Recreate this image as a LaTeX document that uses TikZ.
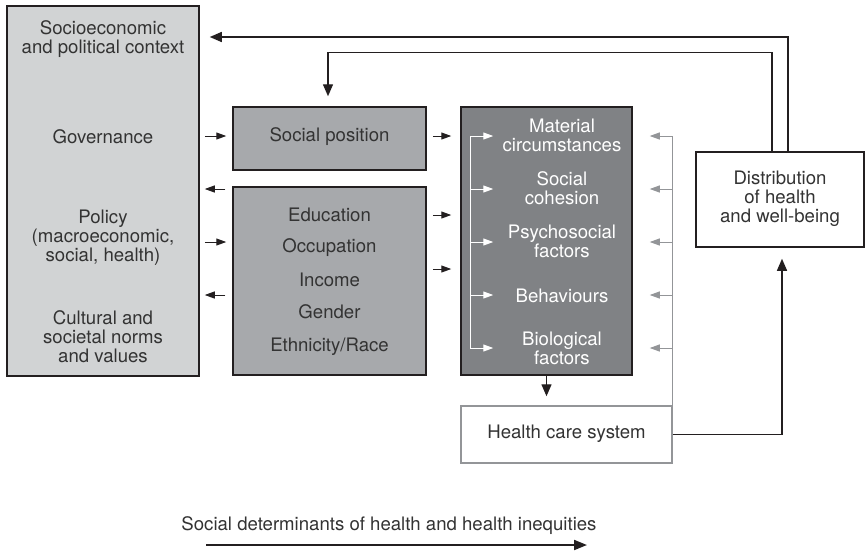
\documentclass[tikz,border=0pt]{standalone}
\usepackage{fontspec}
\setmainfont{TeX Gyre Heros}
\usetikzlibrary{arrows.meta,calc}
\definecolor{lgray}{HTML}{D1D3D4}
\definecolor{mgray}{HTML}{A7A9AC}
\definecolor{dgray}{HTML}{808285}
\definecolor{lineg}{HTML}{939598}
\definecolor{ink}{HTML}{231F20}
\definecolor{tink}{HTML}{333333}
\begin{document}
\begin{tikzpicture}[x=1pt,y=-1pt,
  box/.style={draw=ink,line width=1.5pt,inner sep=0pt},
  txt/.style={font=\fontsize{18.6}{19}\selectfont,text=tink,align=center,inner sep=0pt},
  wtxt/.style={txt,text=white},
  sarr/.style={draw=ink,line width=1pt,-{Triangle[length=10pt,width=7pt]}},
  warr/.style={draw=white,line width=1pt,-{Triangle[length=10pt,width=7pt]}},
  garr/.style={draw=lineg,line width=1pt,-{Triangle[length=10pt,width=7pt]}},
  larr/.style={draw=ink,line width=1.4pt,-{Triangle[length=12pt,width=10pt]}},
  barr/.style={draw=ink,line width=2pt,-{Triangle[length=13pt,width=10pt]}}]
\useasboundingbox (0,0) rectangle (865,550);

% boxes
\node[box,fill=lgray,minimum width=192pt,minimum height=370pt] (L) at (103,191) {};
\node[box,fill=mgray,minimum width=193pt,minimum height=63pt] (SP) at (329.5,138.5) {};
\node[box,fill=mgray,minimum width=193pt,minimum height=188pt] (M) at (329.5,281) {};
\node[box,fill=dgray,minimum width=171pt,minimum height=268pt] (D) at (546.5,241) {};
\node[box,draw=lineg,fill=white,minimum width=211pt,minimum height=57pt] (H) at (566.5,434.5) {};
\node[box,fill=white,minimum width=168pt,minimum height=95pt] (Dist) at (780,199.5) {};

% texts
\node[txt] (t1) at (103,39) {Socioeconomic\\and political context};
\node[txt] (t2) at (103,137) {Governance};
\node[txt] (t3) at (103,238) {Policy\\(macroeconomic,\\social, health)};
\node[txt] (t4) at (103,337) {Cultural and\\societal norms\\and values};
\node[txt] (tsp) at (329.5,137) {Social position};
\node[txt] (m1) at (329.5,215) {Education};
\node[txt] (m2) at (329.5,248) {Occupation};
\node[txt] (m3) at (329.5,280) {Income};
\node[txt] (m4) at (329.5,312) {Gender};
\node[txt] (m5) at (329.5,347) {Ethnicity/Race};
\node[wtxt] (d1) at (562,135) {Material\\circumstances};
\node[wtxt] (d2) at (562,188) {Social\\cohesion};
\node[wtxt] (d3) at (562,241) {Psychosocial\\factors};
\node[wtxt] (d4) at (562,296) {Behaviours};
\node[wtxt] (d5) at (562,348) {Biological\\factors};
\node[txt] (th) at (566.5,434) {Health care system};
\node[txt] (td) at (780,199) {Distribution\\of health\\and well-being};
\node[txt] (bt) at (389,526) {Social determinants of health and health inequities};

% left <-> middle
\draw[sarr] ($(L.east|-0,136)+(5,0)$) -- ($(SP.west|-0,136)+(-6,0)$);
\draw[sarr] ($(M.west|-0,189)+(-7,0)$) -- ($(L.east|-0,189)+(5,0)$);
\draw[sarr] ($(L.east|-0,242)+(5,0)$) -- ($(M.west|-0,242)+(-6,0)$);
\draw[sarr] ($(M.west|-0,295)+(-7,0)$) -- ($(L.east|-0,295)+(5,0)$);

% middle -> dark
\draw[sarr] ($(SP.east|-0,136)+(6,0)$) -- ($(D.west|-0,136)+(-9,0)$);
\draw[sarr] ($(M.east|-0,215)+(6,0)$) -- ($(D.west|-0,215)+(-9,0)$);
\draw[sarr] ($(M.east|-0,269)+(6,0)$) -- ($(D.west|-0,269)+(-9,0)$);

% white bracket inside dark box
\draw[white,line width=1pt] ($(D.west|-0,136)+(10,0)$) -- ($(D.west|-0,348)+(10,0)$);
\foreach \yy in {136,189,242,295,348}
  \draw[warr] ($(D.west|-0,\yy)+(10,0)$) -- ($(D.west|-0,\yy)+(33,0)$);

% gray bracket
\draw[lineg,line width=1pt] (H.north east) -- (H.north east|-0,136);
\foreach \yy in {136,189,242,295,348}
  \draw[garr] (H.north east|-0,\yy) -- ($(D.east|-0,\yy)+(17,0)$);

% dark -> health care
\draw[larr] (D.south) -- ($(H.north-|D.south)+(0,-9)$);

% health care -> distribution
\draw[larr] (H.east) -| ($(Dist.south)+(2,11)$);

% feedback loops
\draw[larr] ($(Dist.north)+(8,0)$) |- ($(L.east|-0,37)+(10,0)$);
\draw[larr] ($(Dist.north)+(-8,0)$) |- ($(SP.north)+(-1.5,-54)$) -- ($(SP.north)+(-1.5,-10)$);

% bottom arrow
\coordinate (ba) at (206,545);
\coordinate (bb) at (587,545);
\draw[barr] (ba) -- (bb);
\end{tikzpicture}
\end{document}
